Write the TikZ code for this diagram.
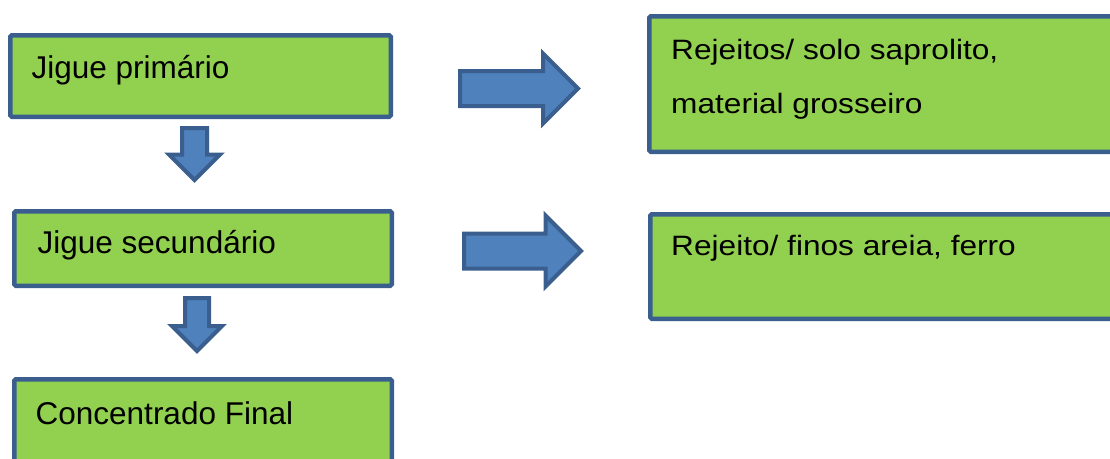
\documentclass[tikz,border=0pt]{standalone}
\usepackage{fontspec}
\setmainfont{Liberation Sans}
\newfontfamily\widefont[FakeStretch=1.13]{Liberation Sans}
\usetikzlibrary{shapes.arrows}
\definecolor{stagegreen}{HTML}{92D050}
\definecolor{stageedge}{HTML}{3A5F8E}
\definecolor{flowblue}{HTML}{4F81BD}
\tikzset{
  stage/.style={draw=stageedge, fill=stagegreen, line width=4.5pt, rounded corners=1.5pt, inner sep=0pt},
  stagetext/.style={anchor=base west, inner sep=0pt, font=\fontsize{31.5}{38}\selectfont},
  wastetext/.style={anchor=base west, inner sep=0pt, align=left, font=\widefont\fontsize{28}{54}\selectfont},
  flow/.style={single arrow, draw=stageedge, fill=flowblue, line width=4pt, inner xsep=0pt,
    single arrow head indent=0pt, single arrow tip angle=90, anchor=tail},
}
\begin{document}
\begin{tikzpicture}[x=1pt, y=-1pt]
    \useasboundingbox (0,0) rectangle (1110,458);
    \clip (0,0) rectangle (1110,458);

    % Concentration line (left)
    \node[stage, minimum width=380.5pt, minimum height=81.5pt] (jp) at (200.5,76) {};
    \node[stage, minimum width=377.5pt, minimum height=74.5pt] (js) at (203,248.5) {};
    \node[stage, minimum width=377.5pt, minimum height=93.5pt] (cf) at (203,426) {};
    \node[stagetext] (jp-t) at (31.5,78) {Jigue primário};
    \node[stagetext] (js-t) at (37.5,253) {Jigue secundário};
    \node[stagetext] (cf-t) at (35.5,424) {Concentrado Final};

    % Tailings (right)
    \node[stage, minimum width=478.5pt, minimum height=135.5pt] (rj1) at (888.5,84) {};
    \node[stage, minimum width=477.5pt, minimum height=104.5pt] (rj2) at (889,266.5) {};
    \node[wastetext] (rj1-t) at (671,113) {Rejeitos/ solo saprolito,\\material grosseiro};
    \node[wastetext] (rj2-t) at (671,255) {Rejeito/ finos areia, ferro};

    % Block arrows
    \node[flow, rotate=-90, minimum height=52pt, inner ysep=10.5pt, single arrow head extend=13pt] (jp-js) at (194.5,126) {};
    \node[flow, rotate=-90, minimum height=53pt, inner ysep=10pt, single arrow head extend=13pt] (js-cf) at (197,296) {};
    \node[flow, minimum height=118pt, inner ysep=15.5pt, single arrow head extend=17.5pt] (jp-rj1) at (458,88.5) {};
    \node[flow, minimum height=117pt, inner ysep=15.5pt, single arrow head extend=18pt] (js-rj2) at (462,251) {};
\end{tikzpicture}
\end{document}
